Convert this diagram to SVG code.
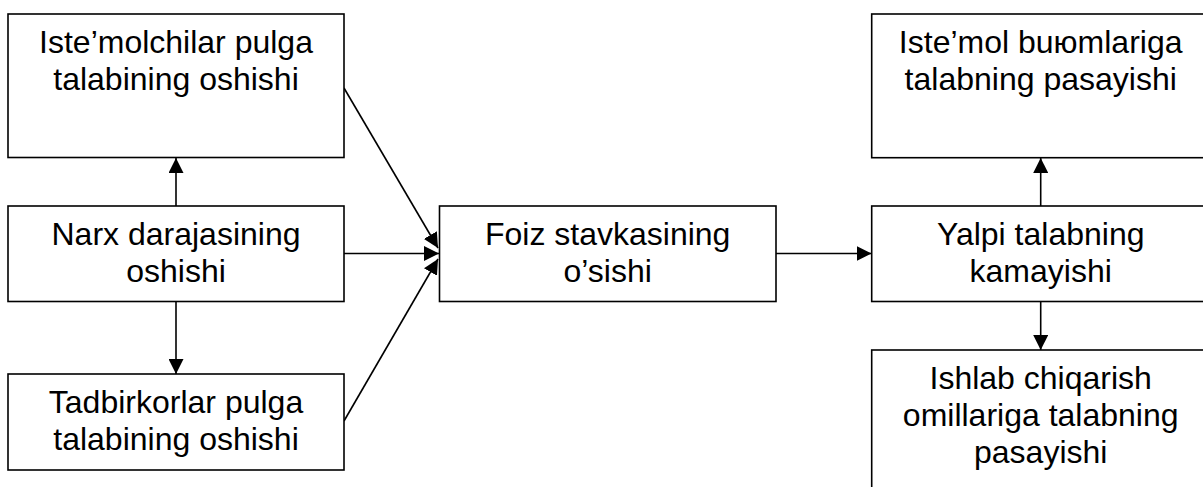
<svg xmlns="http://www.w3.org/2000/svg" width="1203" height="487" viewBox="0 0 1203 487">
<defs>
<marker id="ah" viewBox="0 0 15 15" refX="15" refY="7.5" markerWidth="15" markerHeight="15" markerUnits="userSpaceOnUse" orient="auto">
<path d="M0,0 L15,7.5 L0,15 z" fill="#000"/>
</marker>
</defs>
<style>
rect{fill:#fff;stroke:#000;stroke-width:1.6}
text{font-family:"Liberation Sans",Arial,sans-serif;font-size:32px;fill:#000;text-anchor:middle}
.c line{stroke:#000;stroke-width:1.6;marker-end:url(#ah)}
</style>
<rect x="0" y="0" width="1203" height="487" style="fill:#fff;stroke:none"/>
<g class="c" id="connectors">
<line x1="176" y1="206" x2="176" y2="158"/>
<line x1="176" y1="301.5" x2="176" y2="374"/>
<line x1="344" y1="88" x2="438" y2="248"/>
<line x1="344" y1="253.5" x2="439" y2="253.5"/>
<line x1="344" y1="421" x2="438" y2="259"/>
<line x1="776" y1="253.5" x2="871.5" y2="253.5"/>
<line x1="1040.7" y1="206" x2="1040.7" y2="158"/>
<line x1="1040.7" y1="301.5" x2="1040.7" y2="350"/>
</g>
<g id="n1"><rect x="8" y="14" width="336" height="143.5"/>
<text x="176" y="53.3">Iste’molchilar pulga</text><text x="176" y="90.1">talabining oshishi</text></g>
<g id="n2"><rect x="8" y="206" width="336" height="95.5"/>
<text x="176" y="245.3">Narx darajasining</text><text x="176" y="282.1">oshishi</text></g>
<g id="n3"><rect x="8" y="374" width="336" height="96"/>
<text x="176" y="413.3">Tadbirkorlar pulga</text><text x="176" y="450.1">talabining oshishi</text></g>
<g id="n4"><rect x="439.5" y="206" width="336.5" height="95.5"/>
<text x="607.7" y="245.3">Foiz stavkasining</text><text x="607.7" y="282.1">o’sishi</text></g>
<g id="n5"><rect x="871.7" y="14" width="338" height="143.7"/>
<text x="1040.7" y="53.3">Iste’mol buюmlariga</text><text x="1040.7" y="90.1">talabning pasayishi</text></g>
<g id="n6"><rect x="871.7" y="206" width="338" height="95.5"/>
<text x="1040.7" y="245.3">Yalpi talabning</text><text x="1040.7" y="282.1">kamayishi</text></g>
<g id="n7"><rect x="871.7" y="350" width="338" height="150"/>
<text x="1040.7" y="389.3">Ishlab chiqarish</text><text x="1040.7" y="426.1">omillariga talabning</text><text x="1040.7" y="462.9">pasayishi</text></g>
</svg>
